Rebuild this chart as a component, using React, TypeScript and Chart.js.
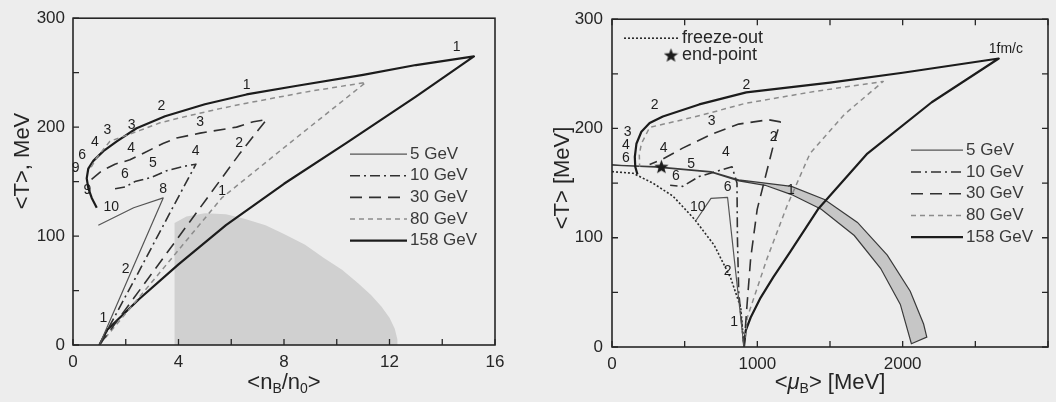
import React, { useEffect, useRef } from "react";
import { Chart, registerables } from "chart.js";

Chart.register(...registerables);

const FONT = "'Liberation Sans', Arial, Helvetica, sans-serif";
const INK = "#262626";

// ---------------- Left panel: <T> vs <n_B/n_0> ----------------
const leftXTicks = [0, 2, 4, 6, 8, 10, 12, 14, 16];
const leftXLabels = [0, 4, 8, 12, 16];
const leftYTicks = [0, 50, 100, 150, 200, 250, 300];
const leftYLabels = [0, 100, 200, 300];

const L5_n = [1.0, 2.2, 3.42, 2.3, 0.96];
const L5_T = [0, 67, 135, 126, 110];

const L10_n = [1.0, 2.4, 3.8, 4.66, 4.2, 3.55, 2.98, 2.35, 1.97, 1.5];
const L10_T = [0, 63, 127, 166, 164, 160, 154, 150, 145, 143];

const L30_n = [1.0, 3.0, 5.0, 6.3, 7.34, 6.84, 6.2, 4.82, 3.93, 3.41, 2.67, 2.16, 1.59, 1.1, 0.7];
const L30_T = [0, 66, 132, 175, 207, 205, 200, 194.5, 190, 185, 176, 170, 166, 160, 152];

const L80_n = [1.0, 3.0, 5.64, 8.3, 11.1, 9.0, 6.58, 5.57, 4.31, 3.3, 2.54, 1.4, 0.9, 0.68];
const L80_T = [0, 58, 135, 187, 241, 233, 222, 217, 210, 204, 197, 187, 172, 163];

const L158_n = [1.0, 1.3, 2.5, 4.0, 5.8, 8.0, 10.4, 13.0, 15.2, 13.0, 11.0, 8.5, 6.58, 5.0, 3.49, 2.41, 1.66, 1.15, 0.77, 0.58, 0.52, 0.58, 0.71, 0.9];
const L158_T = [0, 14, 42, 74, 110, 148, 186, 228, 265, 257, 248, 238, 230, 221, 210, 199, 187, 178, 169, 162, 153, 144, 135, 126];

const Lshade_n = [3.85, 3.85, 4.3, 5.0, 5.8, 6.5, 7.3, 8.0, 8.8, 9.5, 10.2, 10.8, 11.3, 11.7, 12.0, 12.2, 12.3, 12.3];
const Lshade_T = [0, 112, 118, 121, 120, 116, 110, 102, 92, 80, 69, 57, 46, 35, 25, 15, 5, 0];

const leftLabelX = [14.55, 6.58, 3.35, 1.3, 0.83, 0.35, 0.1, 0.55, 1.45, 4.82, 2.2, 4.65, 3.03, 1.97, 3.42, 6.3, 5.65, 1.15, 2.0, 2.22];
const leftLabelY = [273, 239, 219, 197, 186, 174, 162, 142, 127, 205, 181, 178, 167, 157, 143, 185, 141, 25, 70, 202];
const leftLabelT = ["1", "1", "2", "3", "4", "6", "9", "9", "10", "3", "4", "4", "5", "6", "8", "2", "1", "1", "2", "3"];

// ---------------- Right panel: <T> vs <mu_B> ----------------
const rightXTicks = [0, 500, 1000, 1500, 2000, 2500, 3000];
const rightXLabels = [0, 1000, 2000];
const rightYTicks = [0, 50, 100, 150, 200, 250, 300];
const rightYLabels = [0, 100, 200, 300];

const R5_mu = [908, 850, 795, 681, 579];
const R5_T = [0, 70, 137, 136, 116];

const R10_mu = [908, 872, 863, 860, 826, 700, 599, 486, 400];
const R10_T = [0, 50, 100, 150, 165, 160, 156, 147, 148];

const R30_mu = [908, 930, 954, 999, 1056, 1113, 1158, 1077, 872, 690, 486, 350, 259];
const R30_T = [0, 40, 81, 126, 156, 186, 206, 208, 204, 195, 182, 172, 167];

const R80_mu = [908, 931, 1067, 1204, 1362, 1600, 1866, 1400, 917, 668, 486, 259, 202, 188, 190];
const R80_T = [0, 27, 81, 129, 177, 213, 243, 234, 223, 214, 208, 201, 186, 176, 165];

const R158_mu = [908, 920, 954, 1022, 1110, 1226, 1417, 1757, 2200, 2661, 2000, 1500, 924, 600, 350, 259, 202, 168, 157, 160, 175];
const R158_T = [0, 15, 27, 45, 64, 87, 126, 177, 224, 264, 251, 242, 233, 222, 211, 205, 197, 186, 174, 165, 158];

const Rfreeze_mu = [0, 145, 281, 420, 567, 704, 817, 886, 905];
const Rfreeze_T = [160.5, 159, 150, 138, 117, 93, 63, 36, 5];

const Rband_mu = [0, 300, 681, 872, 1054, 1235, 1462, 1689, 1894, 2052, 2144, 2166, 2060, 1984, 1848, 1667, 1440, 1235, 1054, 872, 681, 300, 0];
const Rband_T = [166.5, 165, 160.5, 153, 150, 147, 135, 114, 84, 51, 21, 9, 3, 39, 72, 102, 126, 139.5, 148, 152, 160, 164.5, 166.5];

const RendPoint_mu = [340];
const RendPoint_T = [165];

const rightLabelX = [2710, 924, 293, 107, 95, 95, 686, 356, 783, 1113, 545, 440, 590, 795, 795, 840, 1231];
const rightLabelY = [273, 240, 221, 197, 185, 173, 207, 182, 178, 192, 167, 156, 128, 146, 69, 23, 144];
const rightLabelT = ["1fm/c", "2", "2", "3", "4", "6", "3", "4", "4", "2", "5", "6", "10", "6", "2", "1", "1"];

// ---------------- styles ----------------
const S5 = { borderColor: "#555555", borderWidth: 1.2, borderDash: [] as number[] };
const S10 = { borderColor: "#303030", borderWidth: 1.6, borderDash: [10, 4, 2, 4] };
const S30 = { borderColor: "#303030", borderWidth: 1.6, borderDash: [12, 7] };
const S80 = { borderColor: "#8c8c8c", borderWidth: 1.5, borderDash: [5, 4] };
const S158 = { borderColor: "#1c1c1c", borderWidth: 2.2, borderDash: [] as number[] };
const SFreeze = { borderColor: "#2a2a2a", borderWidth: 1.6, borderDash: [2, 2] };

const zip = (xs: number[], ys: number[]) => xs.map((x, i) => ({ x, y: ys[i] }));

function lineDs(label: string, xs: number[], ys: number[], style: any): any {
  return {
    label,
    data: zip(xs, ys),
    showLine: true,
    pointRadius: 0,
    fill: false,
    tension: 0,
    borderJoinStyle: "round",
    borderCapStyle: "butt",
    ...style,
  };
}

function makeStar(size: number, color: string): HTMLCanvasElement {
  const c = document.createElement("canvas");
  c.width = size;
  c.height = size;
  const g = c.getContext("2d")!;
  const cx = size / 2, cy = size / 2 + 0.5, R = size / 2, r = R * 0.42;
  g.beginPath();
  for (let i = 0; i < 10; i++) {
    const rad = i % 2 === 0 ? R : r;
    const a = -Math.PI / 2 + (i * Math.PI) / 5;
    const px = cx + rad * Math.cos(a), py = cy + rad * Math.sin(a);
    if (i === 0) g.moveTo(px, py); else g.lineTo(px, py);
  }
  g.closePath();
  g.fillStyle = color;
  g.fill();
  return c;
}

function framePlugin(xTicks: number[], yTicks: number[], top: boolean, right: boolean) {
  return {
    id: "frameTicks",
    afterDatasetsDraw(chart: any) {
      const { ctx, chartArea: a, scales } = chart;
      ctx.save();
      ctx.strokeStyle = INK;
      ctx.lineWidth = 1.6;
      ctx.setLineDash([]);
      ctx.strokeRect(a.left, a.top, a.right - a.left, a.bottom - a.top);
      ctx.lineWidth = 1.3;
      ctx.beginPath();
      const L = 6;
      for (const v of xTicks) {
        const p = scales.x.getPixelForValue(v);
        ctx.moveTo(p, a.bottom);
        ctx.lineTo(p, a.bottom - L);
        if (top) {
          ctx.moveTo(p, a.top);
          ctx.lineTo(p, a.top + L);
        }
      }
      for (const v of yTicks) {
        const p = scales.y.getPixelForValue(v);
        ctx.moveTo(a.left, p);
        ctx.lineTo(a.left + L, p);
        if (right) {
          ctx.moveTo(a.right, p);
          ctx.lineTo(a.right - L, p);
        }
      }
      ctx.stroke();
      ctx.restore();
    },
  };
}

function labelsPlugin(xs: number[], ys: number[], ts: string[]) {
  return {
    id: "pointLabels",
    afterDatasetsDraw(chart: any) {
      const { ctx, scales } = chart;
      ctx.save();
      ctx.font = `14px ${FONT}`;
      ctx.fillStyle = "#1e1e1e";
      ctx.textAlign = "center";
      ctx.textBaseline = "middle";
      ts.forEach((t, i) => {
        ctx.fillText(t, scales.x.getPixelForValue(xs[i]), scales.y.getPixelForValue(ys[i]));
      });
      ctx.restore();
    },
  };
}

function legendPlugin(dsIdx: number[], x0: number, x1: number, tx: number, y0: number, dy: number) {
  return {
    id: "customLegend",
    afterDatasetsDraw(chart: any) {
      const { ctx, chartArea: a } = chart;
      ctx.save();
      ctx.font = `17px ${FONT}`;
      ctx.textBaseline = "middle";
      ctx.textAlign = "left";
      dsIdx.forEach((di, i) => {
        const ds = chart.data.datasets[di];
        const y = a.top + y0 + i * dy;
        ctx.save();
        ctx.strokeStyle = ds.borderColor;
        ctx.lineWidth = ds.borderWidth;
        ctx.setLineDash(ds.borderDash || []);
        ctx.beginPath();
        ctx.moveTo(a.left + x0, y);
        ctx.lineTo(a.left + x1, y);
        ctx.stroke();
        ctx.restore();
        ctx.fillStyle = "#3a3a3a";
        ctx.fillText(ds.label, a.left + tx, y);
      });
      ctx.restore();
    },
  };
}

type Part = [string, number]; // 0 normal, 1 subscript, 2 italic

function titlesPlugin(xParts: Part[], xCy: number, yText: string, yCx: number, yCy: number) {
  return {
    id: "axisTitles",
    afterDraw(chart: any) {
      const { ctx, chartArea: a } = chart;
      ctx.save();
      ctx.fillStyle = INK;
      ctx.textBaseline = "middle";
      ctx.textAlign = "left";
      const fontFor = (k: number) =>
        k === 1 ? `14px ${FONT}` : k === 2 ? `italic 22px ${FONT}` : `22px ${FONT}`;
      let total = 0;
      xParts.forEach(([t, k]) => {
        ctx.font = fontFor(k);
        total += ctx.measureText(t).width;
      });
      let x = (a.left + a.right) / 2 - total / 2;
      xParts.forEach(([t, k]) => {
        ctx.font = fontFor(k);
        ctx.fillText(t, x, k === 1 ? xCy + 6 : xCy);
        x += ctx.measureText(t).width;
      });
      ctx.translate(yCx, yCy);
      ctx.rotate(-Math.PI / 2);
      ctx.textAlign = "center";
      ctx.font = `22px ${FONT}`;
      ctx.fillText(yText, 0, 0);
      ctx.restore();
    },
  };
}

function baseOptions(
  xmin: number, xmax: number, xLabels: number[], yLabels: number[],
  yWidth: number, xHeight: number, top: number, right: number, ypad: number
): any {
  return {
    animation: false,
    responsive: true,
    maintainAspectRatio: false,
    events: [],
    layout: { padding: { top, right, left: 0, bottom: 0 } },
    plugins: { legend: { display: false }, tooltip: { enabled: false } },
    scales: {
      x: {
        type: "linear",
        min: xmin,
        max: xmax,
        grid: { display: false, drawTicks: false },
        border: { display: false },
        afterBuildTicks: (s: any) => {
          s.ticks = xLabels.map((v) => ({ value: v }));
        },
        ticks: {
          font: { family: FONT, size: 17 },
          color: INK,
          padding: 7,
          maxRotation: 0,
          autoSkip: false,
          callback: (v: any) => String(v),
        },
        afterFit: (s: any) => {
          s.height = xHeight;
        },
      },
      y: {
        type: "linear",
        min: 0,
        max: 300,
        grid: { display: false, drawTicks: false },
        border: { display: false },
        afterBuildTicks: (s: any) => {
          s.ticks = yLabels.map((v) => ({ value: v }));
        },
        ticks: {
          font: { family: FONT, size: 17 },
          color: INK,
          padding: ypad,
          autoSkip: false,
          callback: (v: any) => String(v),
        },
        afterFit: (s: any) => {
          s.width = yWidth;
        },
      },
    },
  };
}

export default function App() {
  const leftRef = useRef<HTMLCanvasElement>(null);
  const rightRef = useRef<HTMLCanvasElement>(null);

  useEffect(() => {
    const star = makeStar(15, "#1c1c1c");

    const leftDatasets = [
      lineDs("5 GeV", L5_n, L5_T, S5),
      lineDs("10 GeV", L10_n, L10_T, S10),
      lineDs("30 GeV", L30_n, L30_T, S30),
      lineDs("80 GeV", L80_n, L80_T, S80),
      lineDs("158 GeV", L158_n, L158_T, S158),
      {
        label: "shade",
        data: zip(Lshade_n, Lshade_T),
        showLine: true,
        pointRadius: 0,
        borderWidth: 0,
        borderColor: "rgba(0,0,0,0)",
        backgroundColor: "#d0d0d0",
        fill: "shape",
        tension: 0,
        order: 10,
      },
    ];

    const rightDatasets = [
      lineDs("5 GeV", R5_mu, R5_T, S5),
      lineDs("10 GeV", R10_mu, R10_T, S10),
      lineDs("30 GeV", R30_mu, R30_T, S30),
      lineDs("80 GeV", R80_mu, R80_T, S80),
      lineDs("158 GeV", R158_mu, R158_T, S158),
      lineDs("freeze-out", Rfreeze_mu, Rfreeze_T, SFreeze),
      {
        label: "band",
        data: zip(Rband_mu, Rband_T),
        showLine: true,
        pointRadius: 0,
        borderWidth: 1.2,
        borderColor: "#3a3a3a",
        backgroundColor: "#c6c6c6",
        fill: "shape",
        tension: 0,
        order: 10,
      },
      {
        label: "end-point",
        data: zip(RendPoint_mu, RendPoint_T),
        showLine: false,
        pointStyle: star,
        pointRadius: 7,
        order: -1,
      },
    ];

    const c1 = new Chart(leftRef.current!, {
      type: "scatter",
      data: { datasets: leftDatasets as any },
      options: baseOptions(0, 16, leftXLabels, leftYLabels, 73, 57, 16, 41, 8),
      plugins: [
        framePlugin(leftXTicks, leftYTicks, false, false),
        labelsPlugin(leftLabelX, leftLabelY, leftLabelT),
        legendPlugin([0, 1, 2, 3, 4], 277, 334, 337, 136, 21.6),
        titlesPlugin([["<n", 0], ["B", 1], ["/n", 0], ["0", 1], [">", 0]], 383, "<T>, MeV", 23, 161),
      ] as any,
    });

    const freezeLegend = {
      id: "freezeLegend",
      afterDatasetsDraw(chart: any) {
        const { ctx, chartArea: a } = chart;
        ctx.save();
        ctx.strokeStyle = SFreeze.borderColor;
        ctx.lineWidth = SFreeze.borderWidth;
        ctx.setLineDash(SFreeze.borderDash);
        ctx.beginPath();
        ctx.moveTo(a.left + 12, a.top + 19);
        ctx.lineTo(a.left + 67, a.top + 19);
        ctx.stroke();
        ctx.setLineDash([]);
        ctx.drawImage(star, a.left + 59 - 7.5, a.top + 36 - 7.5);
        ctx.font = `18px ${FONT}`;
        ctx.fillStyle = INK;
        ctx.textBaseline = "middle";
        ctx.fillText("freeze-out", a.left + 70, a.top + 19);
        ctx.fillText("end-point", a.left + 70, a.top + 36);
        ctx.restore();
      },
    };

    const c2 = new Chart(rightRef.current!, {
      type: "scatter",
      data: { datasets: rightDatasets as any },
      options: baseOptions(0, 3000, rightXLabels, rightYLabels, 76, 55, 13, 2, 9),
      plugins: [
        framePlugin(rightXTicks, rightYTicks, true, true),
        labelsPlugin(rightLabelX, rightLabelY, rightLabelT),
        legendPlugin([0, 1, 2, 3, 4], 299, 351, 354, 131, 21.75),
        freezeLegend,
        titlesPlugin([["<", 0], ["\u03bc", 2], ["B", 1], ["> [MeV]", 0]], 383, "<T> [MeV]", 27, 178),
      ] as any,
    });

    return () => {
      c1.destroy();
      c2.destroy();
    };
  }, []);

  return (
    <div
      style={{
        position: "fixed",
        left: 0,
        top: 0,
        width: 1056,
        height: 402,
        background: "#ededed",
        overflow: "hidden",
      }}
    >
      <div style={{ position: "absolute", left: 0, top: 0, width: 536, height: 402 }}>
        <canvas ref={leftRef} />
      </div>
      <div style={{ position: "absolute", left: 536, top: 0, width: 520, height: 402 }}>
        <canvas ref={rightRef} />
      </div>
    </div>
  );
}
